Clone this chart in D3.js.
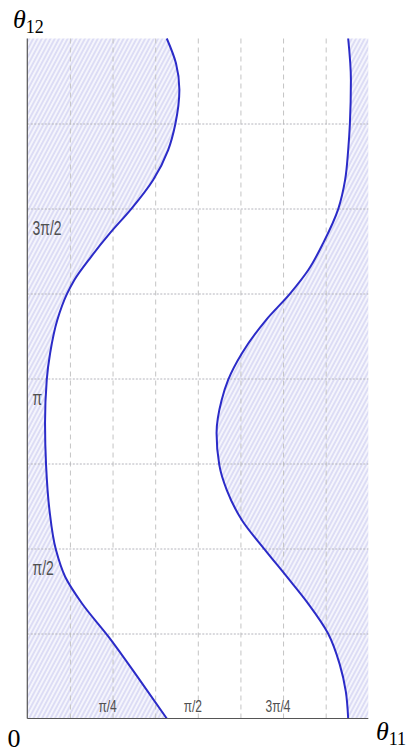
<!DOCTYPE html>
<html>
<head>
<meta charset="utf-8">
<script src="https://cdn.jsdelivr.net/npm/d3@7/dist/d3.min.js"></script>
<style>
  html, body { margin: 0; padding: 0; background: #fff; }
  svg { display: block; }
</style>
</head>
<body>
<svg id="chart" width="415" height="753"></svg>
<script>
// Boundary curves of the admissible region, angles in units of π.
const leftTheta12  = [0, 0.113, 0.241, 0.339, 0.417, 0.496, 0.613, 0.746, 0.869, 0.996, 1.075, 1.172, 1.248, 1.290, 1.358, 1.428, 1.499, 1.584, 1.672, 1.748, 1.849, 1.927, 2.0];
const leftTheta11  = [0.409, 0.330, 0.238, 0.160, 0.111, 0.084, 0.065, 0.055, 0.052, 0.057, 0.067, 0.088, 0.116, 0.138, 0.187, 0.243, 0.305, 0.369, 0.413, 0.434, 0.446, 0.436, 0.409];
const rightTheta12 = [0, 0.08, 0.16, 0.25, 0.34, 0.417, 0.496, 0.584, 0.672, 0.746, 0.840, 0.937, 0.996, 1.075, 1.172, 1.249, 1.319, 1.399, 1.499, 1.584, 1.672, 1.749, 1.878, 2.0];
const rightTheta11 = [0.941, 0.934, 0.916, 0.882, 0.822, 0.761, 0.697, 0.629, 0.585, 0.563, 0.555, 0.570, 0.589, 0.630, 0.700, 0.770, 0.824, 0.868, 0.912, 0.932, 0.941, 0.946, 0.949, 0.941];

// Tick positions (units of π) and labels
const xTickValues = [0.25, 0.5, 0.75];
const xTickLabels = ["π/4", "π/2", "3π/4"];
const yTickValues = [0.5, 1, 1.5];
const yTickLabels = ["π/2", "π", "3π/2"];

const PI = Math.PI;
const svg = d3.select("#chart");
const plot = { left: 27.3, right: 368.3, top: 38.5, bottom: 718.5 };

const x = d3.scaleLinear().domain([0, PI]).range([plot.left, plot.right]);
const y = d3.scaleLinear().domain([0, 2 * PI]).range([plot.bottom, plot.top]);

const leftPts = leftTheta12.map((t, i) => ({ t12: t * PI, t11: leftTheta11[i] * PI }));
const rightPts = rightTheta12.map((t, i) => ({ t12: t * PI, t11: rightTheta11[i] * PI }));

// Hatch pattern for the shaded regions
const defs = svg.append("defs");
const pat = defs.append("pattern")
  .attr("id", "hatch")
  .attr("patternUnits", "userSpaceOnUse")
  .attr("width", 3.8).attr("height", 10)
  .attr("patternTransform", "rotate(28)");
pat.append("rect").attr("width", 3.8).attr("height", 10).attr("fill", "#f5f5fc");
pat.append("line").attr("x1", 1.9).attr("x2", 1.9).attr("y1", 0).attr("y2", 10)
  .attr("stroke", "#cacaf0").attr("stroke-width", 1.1);

// The boundaries are single-valued in θ12, so interpolate x as a function of y
const curve = d3.curveMonotoneY;

// Shaded region left of the left boundary
svg.append("path")
  .datum(leftPts)
  .attr("fill", "url(#hatch)")
  .attr("d", d3.area().curve(curve)
    .y(d => y(d.t12)).x0(x(0)).x1(d => x(d.t11)));

// Shaded region right of the right boundary
svg.append("path")
  .datum(rightPts)
  .attr("fill", "url(#hatch)")
  .attr("d", d3.area().curve(curve)
    .y(d => y(d.t12)).x0(d => x(d.t11)).x1(x(PI)));

// Grid
const gx = svg.append("g").attr("transform", `translate(0,${plot.bottom})`)
  .call(d3.axisBottom(x).tickValues(d3.range(1, 8).map(k => k * PI / 8))
    .tickSize(-(plot.bottom - plot.top)).tickFormat(""));
gx.select(".domain").remove();
gx.selectAll(".tick line").attr("stroke", "#c4c4c4").attr("stroke-width", 1)
  .attr("stroke-dasharray", "5,4");

const gy = svg.append("g").attr("transform", `translate(${plot.left},0)`)
  .call(d3.axisLeft(y).tickValues(d3.range(1, 8).map(k => k * PI / 4))
    .tickSize(-(plot.right - plot.left)).tickFormat(""));
gy.select(".domain").remove();
gy.selectAll(".tick line").attr("stroke", "#b4b4bc").attr("stroke-width", 1)
  .attr("stroke-dasharray", "2,1.5");

// Boundary curves
const line = d3.line().curve(curve).x(d => x(d.t11)).y(d => y(d.t12));
[leftPts, rightPts].forEach(pts => {
  svg.append("path").datum(pts)
    .attr("fill", "none").attr("stroke", "#2b2bc8").attr("stroke-width", 2)
    .attr("d", line);
});

// Axis lines
svg.append("line").attr("x1", plot.left).attr("x2", plot.left).attr("y1", plot.top).attr("y2", plot.bottom)
  .attr("stroke", "#555").attr("stroke-width", 1.2);
svg.append("line").attr("x1", plot.left).attr("x2", plot.right).attr("y1", plot.bottom).attr("y2", plot.bottom)
  .attr("stroke", "#555").attr("stroke-width", 1.2);

// Tick labels drawn inside the plot
xTickValues.forEach((v, i) => {
  const cx = x(v * PI) - 5;
  svg.append("text")
    .attr("transform", `translate(${cx},712) scale(0.75,1)`)
    .attr("text-anchor", "middle")
    .attr("font-family", "Liberation Sans, Arial, sans-serif")
    .attr("font-size", 16).attr("fill", "#505050")
    .text(xTickLabels[i]);
});
yTickValues.forEach((v, i) => {
  const by = y(v * PI) + 26;
  svg.append("text")
    .attr("transform", `translate(32.5,${by}) scale(0.7,1)`)
    .attr("text-anchor", "start")
    .attr("font-family", "Liberation Sans, Arial, sans-serif")
    .attr("font-size", 20).attr("fill", "#505050")
    .text(yTickLabels[i]);
});

// Axis titles
const serif = "Liberation Serif, 'Times New Roman', serif";
const t12 = svg.append("text").attr("x", 13).attr("y", 28)
  .attr("font-family", serif).attr("fill", "#000");
t12.append("tspan").attr("font-style", "italic").attr("font-size", 26).text("θ");
t12.append("tspan").attr("font-size", 18).attr("dy", 5).text("12");

const t11 = svg.append("text").attr("x", 376).attr("y", 740)
  .attr("font-family", serif).attr("fill", "#000");
t11.append("tspan").attr("font-style", "italic").attr("font-size", 26).text("θ");
t11.append("tspan").attr("font-size", 18).attr("dy", 5).text("11");

svg.append("text").attr("x", 7.5).attr("y", 747)
  .attr("font-family", serif).attr("font-size", 26).attr("fill", "#000").text("0");
</script>
</body>
</html>
